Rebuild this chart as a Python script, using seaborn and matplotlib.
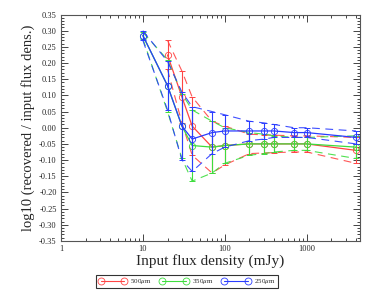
import numpy as np
import pandas as pd
import seaborn as sns
import matplotlib.pyplot as plt
from matplotlib.lines import Line2D
from matplotlib.ticker import MultipleLocator, FixedLocator, NullFormatter

# data
x_500 = [20, 30, 40, 70, 100, 200, 300, 400, 700, 1000, 4000]
y_500 = [0.225, 0.095, 0.005, -0.06, -0.055, -0.05, -0.05, -0.05, -0.05, -0.05, -0.07]
e_500 = [0.045, 0.08, 0.09, 0.08, 0.06, 0.03, 0.028, 0.027, 0.025, 0.025, 0.04]

x_350 = [10, 20, 30, 40, 70, 100, 200, 300, 400, 700, 1000, 4000]
y_350 = [0.285, 0.13, 0.005, -0.055, -0.06, -0.055, -0.05, -0.05, -0.05, -0.05, -0.05, -0.06]
e_350 = [0.01, 0.08, 0.1, 0.11, 0.08, 0.055, 0.035, 0.03, 0.025, 0.02, 0.02, 0.035]

x_250 = [10, 20, 30, 40, 70, 100, 200, 300, 400, 700, 1000, 4000]
y_250 = [0.285, 0.13, 0.005, -0.035, -0.015, -0.01, -0.01, -0.01, -0.01, -0.015, -0.015, -0.03]
e_250 = [0.015, 0.075, 0.105, 0.1, 0.065, 0.05, 0.03, 0.025, 0.02, 0.015, 0.015, 0.02]

series = [
    ("500$\\mu$m", x_500, y_500, e_500, "#ff4444"),
    ("350$\\mu$m", x_350, y_350, e_350, "#3ddd3d"),
    ("250$\\mu$m", x_250, y_250, e_250, "#2a3cff"),
]

sns.set_style("ticks")
plt.rcParams['font.family'] = ['Liberation Serif', 'DejaVu Serif']
plt.rcParams['mathtext.fontset'] = 'stix'

fig = plt.figure(figsize=(3.74, 2.96), dpi=100)
ax = fig.add_axes([0.163, 0.186, 0.8, 0.765])

handles = []
for label, xs, ys, es, col in series:
    df = pd.DataFrame({"x": xs, "y": ys, "lo": np.array(ys) - np.array(es),
                       "hi": np.array(ys) + np.array(es)})
    sns.lineplot(data=df, x="x", y="y", ax=ax, color=col, lw=0.9,
                 marker="o", markersize=4.5, markerfacecolor="none",
                 markeredgecolor=col, markeredgewidth=0.6)
    sns.lineplot(data=df, x="x", y="hi", ax=ax, color=col, lw=0.8,
                 dashes=(7, 5), alpha=0.9)
    sns.lineplot(data=df, x="x", y="lo", ax=ax, color=col, lw=0.8,
                 dashes=(7, 5), alpha=0.9)
    ax.errorbar(xs, ys, yerr=es, fmt="none", ecolor=col, elinewidth=0.8,
                capsize=2, capthick=0.7)
    handles.append(Line2D([], [], color=col, lw=0.8, marker="o", markersize=5,
                          markerfacecolor="none", markeredgewidth=0.6, label=label))

ax.set_xscale("log")
ax.set_xlim(1, 4500)
ax.set_ylim(-0.35, 0.35)
ax.set_xlabel("")
ax.yaxis.set_major_locator(MultipleLocator(0.05))
ax.yaxis.set_minor_locator(MultipleLocator(0.01))
ax.yaxis.set_major_formatter(plt.FuncFormatter(lambda v, p: f"{v:.2f}"))
ax.xaxis.set_major_locator(FixedLocator([1, 10, 100, 1000]))
ax.xaxis.set_major_formatter(plt.FuncFormatter(lambda v, p: f"{v:g}"))
ax.xaxis.set_minor_formatter(NullFormatter())

ax.tick_params(which="both", direction="in", top=True, right=True,
               labelsize=6, width=0.6, pad=3)
ax.tick_params(which="major", length=5)
ax.tick_params(which="minor", length=2.5)
for s in ax.spines.values():
    s.set_linewidth(0.8)
    s.set_color("#555555")

ax.set_xlabel("Input flux density (mJy)", fontsize=11, labelpad=1)
ax.set_ylabel("log10 (recovered / input flux dens.)", fontsize=10.5, labelpad=3)

leg = fig.legend(handles=handles, loc="lower center", bbox_to_anchor=(0.5, 0.015),
                 ncol=3, numpoints=2, fontsize=5, frameon=True, fancybox=False,
                 edgecolor="black", handlelength=4, columnspacing=1.2,
                 borderpad=0.3, handletextpad=0.6)
leg.get_frame().set_linewidth(0.8)

fig.savefig("out.png", dpi=100)
